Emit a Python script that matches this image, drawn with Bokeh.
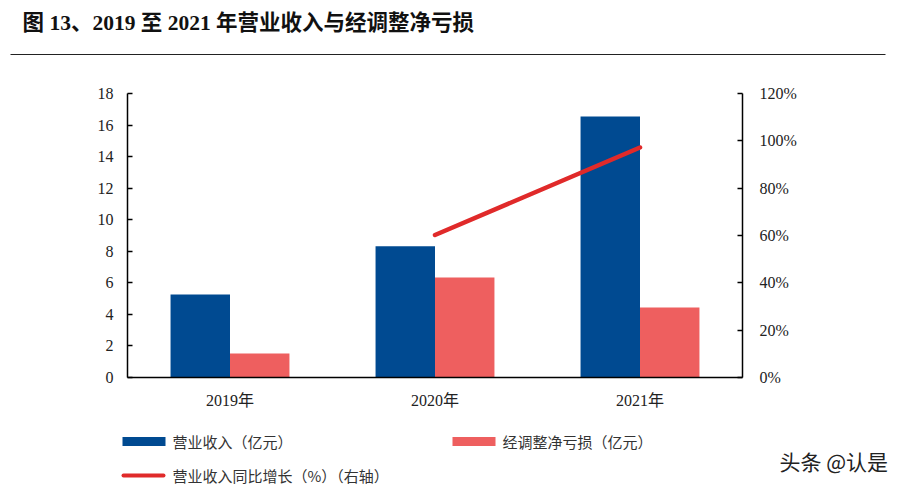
from bokeh.plotting import figure
from bokeh.layouts import column
from bokeh.models import (FactorRange, Range1d, LinearAxis, FixedTicker, PrintfTickFormatter,
                          ColumnDataSource)
from bokeh.core.properties import value
from bokeh.transform import dodge
from bokeh.embed import file_html
from bokeh.resources import INLINE

# ---- data ----
years = ["2019年", "2020年", "2021年"]
revenue = [5.26, 8.32, 16.54]          # 营业收入（亿元）
adj_loss = [1.52, 6.34, 4.44]          # 经调整净亏损（亿元）
growth_years = ["2020年", "2021年"]
growth = [60.2, 97.2]                  # 营业收入同比增长（%）
left_ticks = [0, 2, 4, 6, 8, 10, 12, 14, 16, 18]
right_ticks = [0, 20, 40, 60, 80, 100, 120]

title_text = "图 13、2019 至 2021 年营业收入与经调整净亏损"
legend_labels = ["营业收入（亿元）", "经调整净亏损（亿元）", "营业收入同比增长（%）（右轴）"]
watermark = "头条 @认是"

# ---- styles ----
BLUE = "#004a91"
PINK = "#ee5f5f"
RED = "#e02a2a"
SERIF = "Liberation Serif, Noto Sans CJK SC"
CJK = "Noto Sans CJK SC"
W = 912
TOP_H, MAIN_H, BOT_H = 81, 344, 64


def blank(h):
    f = figure(width=W, height=h, x_range=Range1d(0, W), y_range=Range1d(h, 0),
               x_axis_type=None, y_axis_type=None, output_backend="svg",
               toolbar_location=None, min_border=0, frame_align=False)
    f.outline_line_color = None
    f.xgrid.visible = False
    f.ygrid.visible = False
    return f


# ---- title strip ----
top = blank(TOP_H)
top.text(x=[22], y=[22], text=[title_text], text_font=value(SERIF), text_font_style="bold",
         text_font_size="21.5px", text_baseline="middle", text_color="#111111")
top.segment(x0=[10], y0=[54], x1=[885], y1=[54], line_color="#222222", line_width=1)

# ---- main chart ----
p = figure(width=W, height=MAIN_H, x_range=FactorRange(factors=years, range_padding=0),
           y_range=Range1d(0, 18), output_backend="svg", toolbar_location=None,
           min_border_left=127, min_border_right=W - 742, min_border_top=12,
           min_border_bottom=48, frame_align=False)
p.outline_line_color = None
p.xgrid.visible = False
p.ygrid.visible = False
p.extra_y_ranges = {"pct": Range1d(0, 120)}

src = ColumnDataSource(dict(year=years, revenue=revenue, loss=adj_loss))
p.vbar(x=dodge("year", -0.145, range=p.x_range), top="revenue", width=0.29,
       source=src, fill_color=BLUE, line_color=None)
p.vbar(x=dodge("year", 0.145, range=p.x_range), top="loss", width=0.29,
       source=src, fill_color=PINK, line_color=None)
p.line(x=growth_years, y=growth, y_range_name="pct", line_color=RED, line_width=4.5,
       line_cap="round")

ax = p.yaxis[0]
ax.ticker = FixedTicker(ticks=left_ticks)
rax = LinearAxis(y_range_name="pct", ticker=FixedTicker(ticks=right_ticks),
                 formatter=PrintfTickFormatter(format="%d%%"))
p.add_layout(rax, "right")
for a, so in [(ax, 14), (rax, 17)]:
    a.major_tick_in = 5
    a.major_tick_out = 0
    a.minor_tick_line_color = None
    a.axis_line_width = 1.5
    a.major_tick_line_width = 1.5
    a.major_label_standoff = so
    a.major_label_text_font = SERIF
    a.major_label_text_font_size = "16px"
    a.major_label_text_color = "#222222"

bx = p.xaxis[0]
bx.major_tick_line_color = None
bx.minor_tick_line_color = None
bx.axis_line_width = 1.5
bx.major_label_standoff = 8
bx.major_label_text_font = SERIF
bx.major_label_text_font_size = "16px"
bx.major_label_text_color = "#222222"

# ---- legend strip ----
bot = blank(BOT_H)
bot.quad(left=[122, 452], right=[165, 495], top=[11.5, 11.5], bottom=[20.5, 20.5],
         fill_color=[BLUE, PINK], line_color=None)
bot.segment(x0=[123], y0=[50], x1=[163], y1=[50], line_color=RED, line_width=4,
            line_cap="round")
bot.text(x=[172, 502, 172], y=[16, 16, 50], text=legend_labels, text_font=value(CJK),
         text_font_size="15px", text_baseline="middle", text_color="#333333")
bot.text(x=[779], y=[35], text=[watermark], text_font=value(CJK), text_font_size="21px",
         text_baseline="middle", text_color="#222222")

layout = column(top, p, bot, spacing=0)
open("out.html", "w").write(file_html(layout, INLINE))
